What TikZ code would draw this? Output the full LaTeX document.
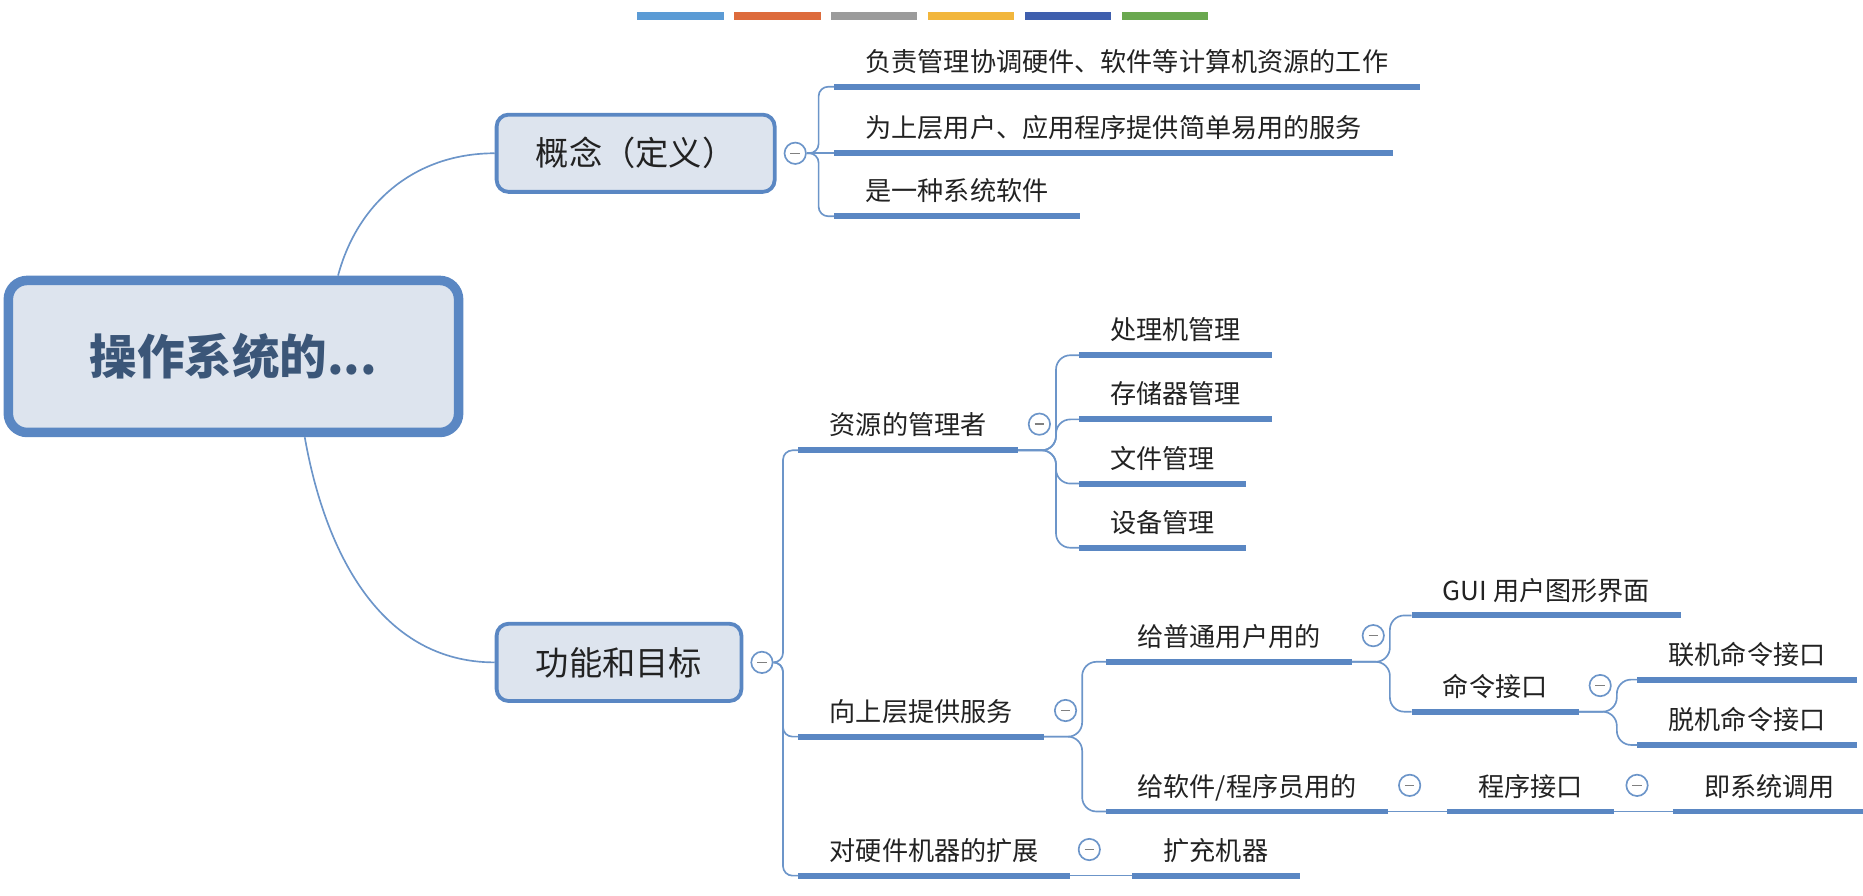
\documentclass[tikz,border=0pt]{standalone}
\usepackage{fontspec}
\setmainfont{Noto Sans CJK SC}
\usepackage{xcolor}
\usepackage{tikz}
\usetikzlibrary{shapes,positioning,calc}

\definecolor{lineb}{HTML}{5A87C3}
\definecolor{linkb}{HTML}{6C95C9}
\definecolor{boxfill}{HTML}{DDE4EE}
\definecolor{roottext}{HTML}{3B5678}
\definecolor{txt}{HTML}{222222}
\definecolor{barA}{HTML}{5B9BD5}
\definecolor{barB}{HTML}{DD6B3C}
\definecolor{barC}{HTML}{9B9B9B}
\definecolor{barD}{HTML}{F2B63C}
\definecolor{barE}{HTML}{3F5FAD}
\definecolor{barF}{HTML}{6AA84F}

\tikzset{
  rootbox/.style={draw=lineb, line width=4pt, fill=boxfill, rounded corners=8pt, minimum width=189.5pt, minimum height=64pt, text=roottext, font=\fontsize{20}{24}\selectfont\bfseries},
  topic/.style={draw=lineb, line width=1.6pt, fill=boxfill, rounded corners=5pt, inner xsep=16.5pt, minimum height=32.5pt, text=txt, font=\fontsize{14}{17}\selectfont},
  uline/.style={draw=lineb, line width=2.5pt},
  leaf/.style={anchor=south west, inner xsep=13pt, inner ysep=3.8pt, text height=9pt, text depth=2.5pt, text=txt, font=\fontsize{11}{13}\selectfont, append after command={(\tikzlastnode.south west) edge[uline] (\tikzlastnode.south east)}},
  link/.style={draw=linkb, line width=0.7pt, rounded corners=6pt},
  fold/.style={circle, draw=linkb, fill=white, line width=0.7pt, minimum size=9pt, inner sep=0pt, path picture={\draw[gray, line width=0.6pt] ([xshift=-2pt]path picture bounding box.center) -- ([xshift=2pt]path picture bounding box.center);}}
}

\begin{document}
\begin{tikzpicture}[x=0.5pt, y=-0.5pt]
    \useasboundingbox (0,0) rectangle (1568,754);
    \foreach \c [count=\i from 0] in {barA,barB,barC,barD,barE,barF}
        \fill[\c] ({536+81.6*\i},10) rectangle ++(73,7);

    \node[rootbox] (root) at (196.5,300) {操作系统的...};
    \node[topic] (def) at (535,129) {概念（定义）};
    \node[topic] (fun) at (521,557.5) {功能和目标};
    \node[fold, right=3pt of def] (kdef) {};
    \node[fold, right=3pt of fun] (kfun) {};

    \node[leaf] (c1) at (702,73) {负责管理协调硬件、软件等计算机资源的工作};
    \node[leaf] (c2) at (702,129) {为上层用户、应用程序提供简单易用的服务};
    \node[leaf] (c3) at (702,182) {是一种系统软件};

    \node[leaf] (res) at (672,379) {资源的管理者};
    \node[leaf] (svc) at (672,620) {向上层提供服务};
    \node[leaf] (ext) at (672,737) {对硬件机器的扩展};

    \node[leaf] (cpu) at (908,299) {处理机管理};
    \node[leaf] (mem) at (908,353) {存储器管理};
    \node[leaf] (file) at (908,407) {文件管理};
    \node[leaf] (dev) at (908,461) {设备管理};

    \node[leaf] (user) at (931,557) {给普通用户用的};
    \node[leaf] (prog) at (931,683) {给软件/程序员用的};
    \node[leaf] (gui) at (1188,518) {GUI 用户图形界面};
    \node[leaf] (cmd) at (1188,599) {命令接口};
    \node[leaf] (online) at (1378,572) {联机命令接口};
    \node[leaf] (offline) at (1378,627) {脱机命令接口};
    \node[leaf] (api) at (1218,683) {程序接口};
    \node[leaf] (sys) at (1408,683) {即系统调用};
    \node[leaf] (more) at (953,737) {扩充机器};

    \node[fold] (kres) at ([shift={(18,-22)}]res.south east) {};
    \node[fold] (ksvc) at ([shift={(18,-22)}]svc.south east) {};
    \node[fold] (kext) at ([shift={(16,-22)}]ext.south east) {};
    \node[fold] (kuser) at ([shift={(18,-22)}]user.south east) {};
    \node[fold] (kcmd) at ([shift={(18,-22)}]cmd.south east) {};
    \node[fold] (kprog) at ([shift={(18,-22)}]prog.south east) {};
    \node[fold] (kapi) at ([shift={(19,-22)}]api.south east) {};

    \draw[link] ([xshift=44pt]root.north) to[out=75, in=180] (def.west);
    \draw[link] ([xshift=30pt]root.south) to[out=-80, in=180] (fun.west);

    \draw[link, rounded corners=4pt] (kdef.east) -- ++(5pt,0) |- (c1.south west);
    \draw[link] (kdef.east) -- (c2.south west);
    \draw[link, rounded corners=4pt] (kdef.east) -- ++(5pt,0) |- (c3.south west);

    \draw[link, rounded corners=4pt] (kfun.east) -- ++(4pt,0) |- (res.south west);
    \draw[link, rounded corners=4pt] (kfun.east) -- ++(4pt,0) |- (svc.south west);
    \draw[link, rounded corners=4pt] (kfun.east) -- ++(4pt,0) |- (ext.south west);

    \draw[link] (res.south east) -- ++(16pt,0) |- (cpu.south west);
    \draw[link] (res.south east) -- ++(16pt,0) |- (mem.south west);
    \draw[link] (res.south east) -- ++(16pt,0) |- (file.south west);
    \draw[link] (res.south east) -- ++(16pt,0) |- (dev.south west);

    \draw[link] (svc.south east) -- ++(16pt,0) |- (user.south west);
    \draw[link] (svc.south east) -- ++(16pt,0) |- (prog.south west);
    \draw[link] (user.south east) -- ++(16pt,0) |- (gui.south west);
    \draw[link] (user.south east) -- ++(16pt,0) |- (cmd.south west);
    \draw[link] (cmd.south east) -- ++(16pt,0) |- (online.south west);
    \draw[link] (cmd.south east) -- ++(16pt,0) |- (offline.south west);
    \draw[link] (prog.south east) -- (api.south west);
    \draw[link] (api.south east) -- (sys.south west);
    \draw[link] (ext.south east) -- (more.south west);
\end{tikzpicture}
\end{document}
